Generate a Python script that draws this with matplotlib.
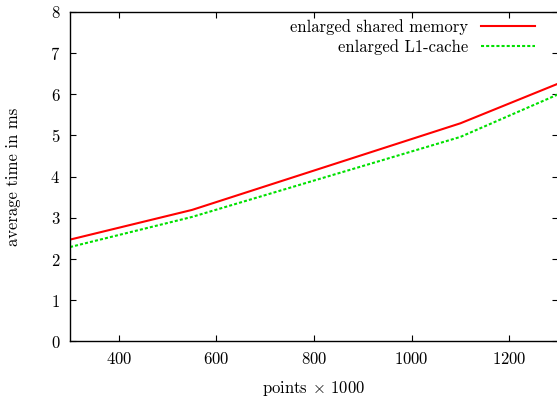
import matplotlib
matplotlib.use("Agg")
import matplotlib.pyplot as plt

# data (points x 1000 -> ms)
points = [300, 550, 1100, 1300]
shared_mem = [2.47, 3.19, 5.29, 6.25]
l1_cache = [2.29, 3.02, 4.96, 5.99]

xticks = [400, 600, 800, 1000, 1200]
yticks = [0, 1, 2, 3, 4, 5, 6, 7, 8]

plt.rcParams['font.family'] = 'cmr10'
plt.rcParams['mathtext.fontset'] = 'cm'
plt.rcParams['axes.formatter.use_mathtext'] = True
plt.rcParams['lines.scale_dashes'] = False

fig = plt.figure(figsize=(5.57, 3.97), dpi=100)
ax = fig.add_axes([0.1257, 0.1398, 0.8761, 0.8312])

ax.plot(points, shared_mem, color='#ff0000', lw=1.5, label='enlarged shared memory')
ax.plot(points, l1_cache, color='#00e000', lw=1.5, linestyle=(0, (2.2, 1.5)),
        label='enlarged L1-cache')

ax.set_xlim(300, 1300)
ax.set_ylim(0, 8)
ax.set_xticks(xticks)
ax.set_yticks(yticks)
ax.tick_params(direction='in', length=4, width=0.8, top=True, right=True,
               labelsize=12, colors='black')
ax.tick_params(axis='y', pad=7)
ax.tick_params(axis='x', pad=7)
for s in ax.spines.values():
    s.set_linewidth(1.0)

ax.set_xlabel(r'points $\times$ 1000', fontsize=12, labelpad=8.5)
ax.set_ylabel('average time in ms', fontsize=12, labelpad=21)

leg = ax.legend(loc='upper right', bbox_to_anchor=(0.953, 0.977), frameon=False,
                markerfirst=False, fontsize=12, handlelength=3.25, handletextpad=0.78,
                borderpad=0, borderaxespad=0, labelspacing=0.25)
# right-justify the key text like gnuplot
for col in leg._legend_handle_box.get_children():
    col.align = 'right'

fig.savefig('out.png', dpi=100)
